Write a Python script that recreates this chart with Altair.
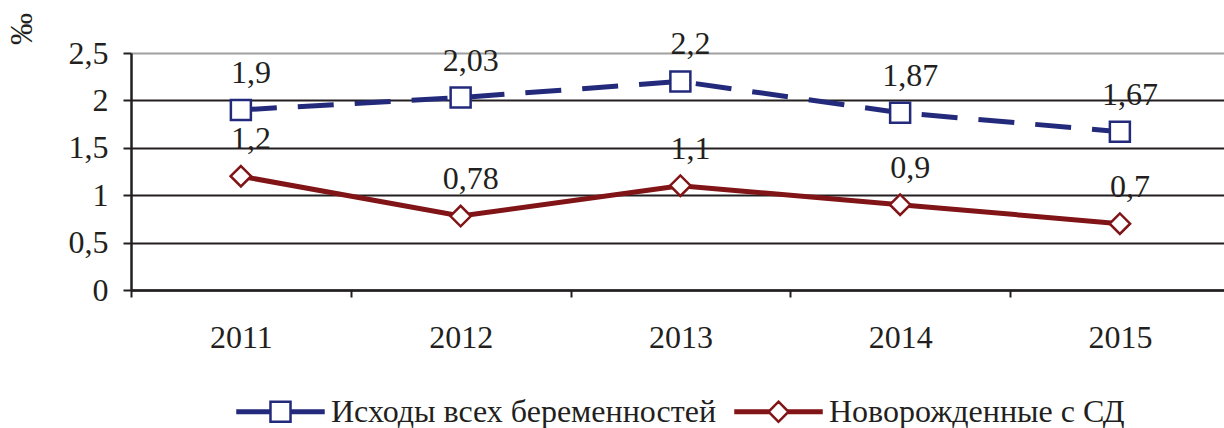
import altair as alt
import pandas as pd

years = ["2011", "2012", "2013", "2014", "2015"]
outcomes = [1.9, 2.03, 2.2, 1.87, 1.67]
newborns = [1.2, 0.78, 1.1, 0.9, 0.7]
series_names = ["Исходы всех беременностей", "Новорожденные с СД"]
colors = ["#232a7c", "#801417"]
unit_title = "‰"

rows = []
for y, v in zip(years, outcomes):
    rows.append({"year": y, "value": v, "series": series_names[0]})
for y, v in zip(years, newborns):
    rows.append({"year": y, "value": v, "series": series_names[1]})
df = pd.DataFrame(rows)

FONT = "Liberation Serif"
TXT = "#231f20"
FS = 32

W = 1093
H = 237
BAND = 219.75

xenc = alt.X(
    "year:N",
    sort=years,
    bandPosition=0.5,
    scale=alt.Scale(type="band", domain=years, range=[0, BAND * 5], paddingInner=0, paddingOuter=0),
    axis=alt.Axis(
        title=None, labelAngle=0, labelFont=FONT, labelFontSize=FS, labelColor=TXT,
        tickBand="extent", tickSize=7, tickWidth=2, tickColor="#231f20",
        domainColor="#231f20", domainWidth=2.5, labelPadding=25, grid=False,
    ),
)
yenc = alt.Y(
    "value:Q",
    scale=alt.Scale(domain=[0, 2.5], nice=False, zero=True),
    axis=alt.Axis(
        values=[0, 0.5, 1, 1.5, 2, 2.5], format=".1~f",
        labelExpr="replace(datum.label, '.', ',')",
        labelFont=FONT, labelFontSize=FS, labelColor=TXT, labelPadding=15,
        tickSize=8, tickWidth=2, tickColor="#231f20",
        domainColor="#231f20", domainWidth=2.5,
        grid=True, gridWidth=2,
        gridColor=alt.condition("datum.value == 2.5", alt.value("#a0a0a0"), alt.value("#231f20")),
        title=None,
    ),
)

h = 0.03
r = 0.233
seg = f"M-1,{-h}H{-r}V{h}H-1Z M{r},{-h}H1V{h}H{r}Z "
sq_path = seg + f"M{-r},{-r}H{r}V{r}H{-r}Z"
dm_path = seg + f"M0,{-r}L{r},0L0,{r}L{-r},0Z"

leg = alt.Legend(
    title=None, orient="none", direction="horizontal", legendX=105, legendY=314,
    labelFont=FONT, labelFontSize=FS, labelColor=TXT, labelOffset=6, labelLimit=700,
    symbolSize=86 * 86, symbolStrokeWidth=2.5, columnPadding=13, symbolOpacity=1,
)
color_scale = alt.Scale(domain=series_names, range=colors)

base = alt.Chart(df)

line_a = base.transform_filter(alt.datum.series == series_names[0]).mark_line(
    strokeWidth=5, color=colors[0], strokeDash=[36, 21]
).encode(x=xenc, y=yenc)

line_b = base.transform_filter(alt.datum.series == series_names[1]).mark_line(
    strokeWidth=5, color=colors[1]
).encode(x=xenc, y=yenc)

squares = base.transform_filter(alt.datum.series == series_names[0]).mark_point(
    shape="square", size=400, filled=True, fill="white", stroke=colors[0], strokeWidth=2.5, opacity=1
).encode(x=xenc, y=yenc)

diamonds = base.transform_filter(alt.datum.series == series_names[1]).mark_point(
    shape="diamond", size=420, filled=True, fill="white", stroke=colors[1], strokeWidth=2.5, opacity=1
).encode(x=xenc, y=yenc)

labels = base.transform_calculate(
    lbl="replace(toString(datum.value), '.', ',')"
).mark_text(font=FONT, fontSize=FS, color=TXT, dx=10, dy=-37, baseline="middle", align="center").encode(
    x=xenc, y=yenc, text="lbl:N"
)

legend_layer = base.transform_filter("false").mark_point(strokeWidth=2.5, opacity=1).encode(
    x=xenc, y=yenc,
    color=alt.Color("series:N", scale=color_scale, legend=leg),
    shape=alt.Shape("series:N", scale=alt.Scale(domain=series_names, range=[sq_path, dm_path]), legend=leg),
)

title_mark = alt.Chart(pd.DataFrame({"t": [unit_title]})).mark_text(
    font=FONT, fontSize=FS, color=TXT, angle=270, align="center", baseline="middle"
).encode(x=alt.value(-109), y=alt.value(-24), text="t:N")

chart = alt.layer(line_a, line_b, squares, diamonds, labels, title_mark, legend_layer).properties(
    width=W, height=H, background="white",
    autosize=alt.AutoSizeParams(type="none"),
    padding={"left": 131, "top": 53, "right": 0, "bottom": 138},
).configure_view(stroke=None)

chart.save("out.html", embed_options={"renderer": "svg", "actions": False})
